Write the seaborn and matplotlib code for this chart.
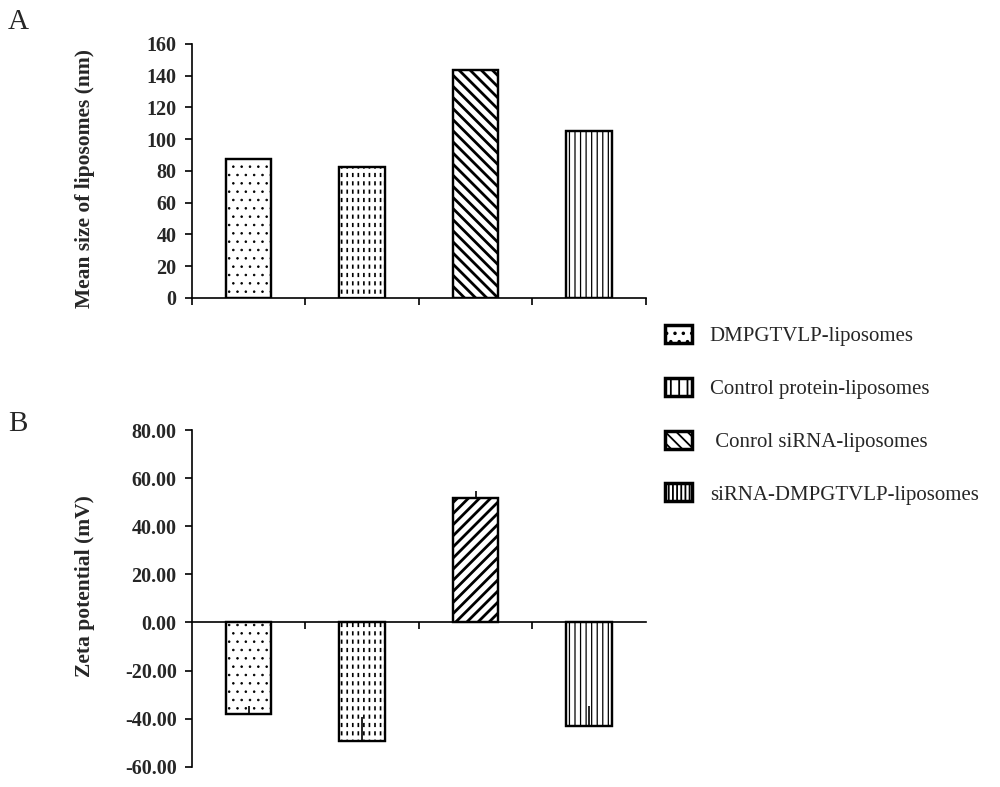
import numpy as np
import pandas as pd
import seaborn as sns
import matplotlib
matplotlib.use("Agg")
import matplotlib.pyplot as plt
from matplotlib.patches import Patch, Rectangle

# ---------------- data ----------------
categories = ["DMPGTVLP-liposomes", "Control protein-liposomes",
              "Conrol siRNA-liposomes", "siRNA-DMPGTVLP-liposomes"]
legend_labels = ["DMPGTVLP-liposomes", "Control protein-liposomes",
                 " Conrol siRNA-liposomes", "siRNA-DMPGTVLP-liposomes"]
size_nm = [87.4, 82.5, 143.8, 105.4]
zeta_mv = [-38.0, -49.4, 51.8, -43.0]
zeta_err = [3.2, 10.1, 2.9, 8.2]
size_ticks = [0, 20, 40, 60, 80, 100, 120, 140, 160]
zeta_ticks = [-60, -40, -20, 0, 20, 40, 60, 80]

# ---------------- style ----------------
sns.set_style("white")
plt.rcParams["font.family"] = ["Liberation Serif", "DejaVu Serif"]
plt.rcParams["hatch.linewidth"] = 1.3
plt.rcParams["hatch.color"] = "black"

hatches_a = ["..", "|||", "\\\\\\", "|||"]
hatches_b = ["..", "|||", "///", "|||"]
hatch_lw = [0.6, 1.2, 2.0, 0.9]

fig = plt.figure(figsize=(10, 7.87), dpi=100)
axA = fig.add_axes([0.192, 0.6214, 0.4537, 0.3227])
axB = fig.add_axes([0.192, 0.0258, 0.4537, 0.4278])

df_a = pd.DataFrame({"cat": categories, "val": size_nm})
df_b = pd.DataFrame({"cat": categories, "val": zeta_mv})


def style_bars(ax, hatches):
    bars = list(ax.patches)
    for p, h, lw in zip(bars, hatches, hatch_lw):
        p.set_hatch(h)
        if hasattr(p, "set_hatch_linewidth"):
            p.set_hatch_linewidth(lw)
    # dashed look for the 2nd bar: white horizontal gaps + redrawn outline
    p = bars[1]
    gap = Rectangle((p.get_x(), p.get_y()), p.get_width(), p.get_height(),
                    facecolor="none", edgecolor="white", linewidth=0,
                    hatch="--", zorder=p.get_zorder() + 0.1)
    if hasattr(gap, "set_hatch_linewidth"):
        gap.set_hatch_linewidth(3.0)
    ax.add_patch(gap)
    for q in bars:
        ax.add_patch(Rectangle((q.get_x(), q.get_y()), q.get_width(), q.get_height(),
                               facecolor="none", edgecolor="black", linewidth=1.6,
                               zorder=q.get_zorder() + 0.2))
    return bars


def style_axis(ax):
    for s in ["top", "right"]:
        ax.spines[s].set_visible(False)
    for s in ["left", "bottom"]:
        ax.spines[s].set_linewidth(1.2)
        ax.spines[s].set_color("black")
    ax.tick_params(axis="both", direction="out", length=5, width=1.2,
                   color="black", labelsize=14.5, pad=6,
                   left=True, bottom=True)
    ax.tick_params(axis="x", labelbottom=False)
    for lab in ax.get_yticklabels():
        lab.set_fontweight("bold")
    ax.set_xlabel("")


# ---------------- Panel A ----------------
sns.barplot(data=df_a, x="cat", y="val", order=categories, ax=axA, width=0.4,
            color="white", saturation=1, edgecolor="black", linewidth=1.6)
style_bars(axA, hatches_a)
axA.set_xlim(-0.5, 3.5)
axA.set_ylim(size_ticks[0], size_ticks[-1])
axA.set_yticks(size_ticks)
axA.set_yticklabels([f"{t:d}" for t in size_ticks])
axA.set_xticks(np.arange(-0.5, len(categories), 1.0))
style_axis(axA)
axA.set_ylabel("Mean size of liposomes (nm)", fontsize=15.5, fontweight="bold")
axA.yaxis.set_label_coords(-0.214, 0.472)

# ---------------- Panel B ----------------
sns.barplot(data=df_b, x="cat", y="val", order=categories, ax=axB, width=0.4,
            color="white", saturation=1, edgecolor="black", linewidth=1.6)
barsB = style_bars(axB, hatches_b)
centers = [p.get_x() + p.get_width() / 2 for p in barsB]
axB.errorbar(centers, zeta_mv, yerr=[np.zeros(len(zeta_err)), zeta_err],
             fmt="none", ecolor="black", elinewidth=1.2, capsize=0, zorder=10)
axB.set_xlim(-0.5, 3.5)
axB.set_ylim(zeta_ticks[0], zeta_ticks[-1])
axB.set_yticks(zeta_ticks)
axB.set_yticklabels([f"{t:.2f}" for t in zeta_ticks])
axB.set_xticks(np.arange(0.5, len(categories) - 1, 1.0))
axB.spines["bottom"].set_position(("data", 0))
style_axis(axB)
axB.set_ylabel("Zeta potential (mV)", fontsize=15.5, fontweight="bold")
axB.yaxis.set_label_coords(-0.214, 0.537)

# ---------------- panel letters ----------------
fig.text(0.008, 1 - 22 / 787, "A", fontsize=21, va="center", ha="left")
fig.text(0.008, 1 - 424 / 787, "B", fontsize=21, va="center", ha="left")

# ---------------- legend ----------------
leg_hatches = ["..", "||", "\\\\\\", "||||"]
handles = [Patch(facecolor="white", edgecolor="black", linewidth=2.5, hatch=h)
           for h in leg_hatches]
fig.legend(handles, legend_labels, loc="upper left",
           bbox_to_anchor=(0.665, 1 - 325 / 787), frameon=False,
           fontsize=15, handlelength=1.3, handleheight=0.95,
           handletextpad=0.85, labelspacing=1.52, borderpad=0, borderaxespad=0)

fig.savefig("out.png", dpi=100)
